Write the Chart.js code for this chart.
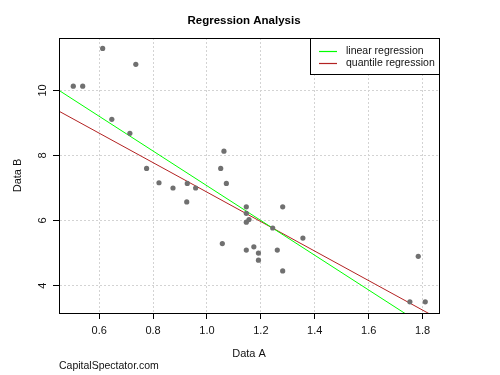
<!DOCTYPE html>
<html><head><meta charset="utf-8">
<script src="https://cdn.jsdelivr.net/npm/chart.js@4/dist/chart.umd.min.js"></script>
<style>html,body{margin:0;padding:0;background:#fff}canvas{display:block}</style>
</head><body>
<canvas id="c" width="500" height="375"></canvas>
<script>
// ---- data ----
const dataA = [0.504,0.539,0.613,0.736,0.647,0.714,0.776,0.822,0.874,0.927,0.958,0.925,1.063,1.051,1.072,1.146,1.146,1.156,1.146,1.281,1.244,1.356,1.057,1.146,1.174,1.191,1.191,1.261,1.281,1.784,1.753,1.810];
const dataB = [10.13,10.13,11.29,10.80,9.11,8.68,7.60,7.16,7.00,7.14,7.00,6.57,8.13,7.60,7.14,6.42,6.22,6.03,5.95,6.42,5.77,5.46,5.29,5.09,5.19,5.00,4.78,5.09,4.45,4.90,3.50,3.50];
const linearX = [0.451, 1.861];
const linearY = [10.00, 2.47];
const quantileX = [0.451, 1.861];
const quantileY = [9.36, 2.97];
const xTicks = [0.6, 0.8, 1.0, 1.2, 1.4, 1.6, 1.8];
const yTicks = [4, 6, 8, 10];
const seriesLabels = ['linear regression', 'quantile regression'];
const seriesColors = ['#00ff00', '#b22222'];
const titleText = 'Regression Analysis';
const xTitle = 'Data A';
const yTitle = 'Data B';
const sourceText = 'CapitalSpectator.com';

const FONT = "'Liberation Sans', Arial, sans-serif";
const toPts = (xs, ys) => xs.map((x, i) => ({x: x, y: ys[i]}));

const extras = {
  id: 'extras',
  afterDraw(chart) {
    const ctx = chart.ctx, a = chart.chartArea;
    ctx.save();
    ctx.setLineDash([]);
    // plot box
    ctx.strokeStyle = '#000'; ctx.lineWidth = 1;
    ctx.strokeRect(Math.round(a.left) + 0.5, Math.round(a.top) + 0.5, Math.round(a.right - a.left), Math.round(a.bottom - a.top));
    // title
    ctx.fillStyle = '#000';
    ctx.font = "bold 11.5px " + FONT;
    ctx.textAlign = 'center'; ctx.textBaseline = 'middle';
    ctx.fillText(titleText, 244, 21);
    // source
    ctx.font = "10.5px " + FONT;
    ctx.textAlign = 'left';
    ctx.fillStyle = '#111';
    ctx.fillText(sourceText, 59, 366);
    // legend (top-right inset)
    const lx = 310.5, ly = Math.round(a.top) + 0.5, lw = Math.round(a.right) - 310, lh = 36;
    ctx.fillStyle = '#fff';
    ctx.fillRect(lx, ly, lw, lh);
    ctx.strokeStyle = '#000';
    ctx.strokeRect(lx, ly, lw, lh);
    seriesLabels.forEach((lab, i) => {
      const y = 51 + i * 11.6;
      ctx.strokeStyle = seriesColors[i]; ctx.lineWidth = 1.2;
      ctx.beginPath(); ctx.moveTo(319, Math.round(y) + 0.5); ctx.lineTo(337, Math.round(y) + 0.5); ctx.stroke();
      ctx.fillStyle = '#111';
      ctx.font = "10.5px " + FONT;
      ctx.textAlign = 'left'; ctx.textBaseline = 'middle';
      ctx.fillText(lab, 346, y + 0.5);
    });
    ctx.restore();
  }
};

const gridOpts = { color: '#d3d3d3', tickLength: 6, tickColor: '#000', tickBorderDash: [], tickWidth: 1, lineWidth: 1 };
const borderOpts = { display: true, color: '#000', width: 1, dash: [2, 2] };

new Chart(document.getElementById('c'), {
  type: 'scatter',
  data: {
    datasets: [
      { label: 'points', data: toPts(dataA, dataB), backgroundColor: '#707070', borderColor: '#707070', pointRadius: 2.6, borderWidth: 0, pointHoverRadius: 2.6 },
      { label: seriesLabels[0], data: toPts(linearX, linearY), showLine: true, borderColor: seriesColors[0], borderWidth: 1, pointRadius: 0, fill: false },
      { label: seriesLabels[1], data: toPts(quantileX, quantileY), showLine: true, borderColor: seriesColors[1], borderWidth: 1, pointRadius: 0, fill: false }
    ]
  },
  options: {
    responsive: false,
    animation: false,
    devicePixelRatio: 1,
    layout: { padding: { top: 38, right: 61, left: 0, bottom: 0 } },
    plugins: { legend: { display: false }, title: { display: false }, tooltip: { enabled: false } },
    scales: {
      x: {
        type: 'linear', min: 0.451, max: 1.861,
        afterBuildTicks: s => { s.ticks = xTicks.map(v => ({value: v})); },
        afterFit: s => { s.height = 62; },
        ticks: { callback: v => Number(v).toFixed(1), font: { family: FONT, size: 11 }, color: '#111', padding: 5, maxRotation: 0, minRotation: 0 },
        grid: gridOpts,
        border: borderOpts,
        title: { display: true, text: xTitle, font: { family: FONT, size: 11 }, color: '#111', padding: { top: 0, bottom: 14 } }
      },
      y: {
        type: 'linear', min: 3.157, max: 11.61,
        afterBuildTicks: s => { s.ticks = yTicks.map(v => ({value: v})); },
        afterFit: s => { s.width = 59; },
        ticks: { callback: v => String(v), font: { family: FONT, size: 11 }, color: '#111', padding: 4, minRotation: 90, maxRotation: 90, crossAlign: 'center' },
        grid: gridOpts,
        border: borderOpts,
        title: { display: true, text: yTitle, font: { family: FONT, size: 11 }, color: '#111', padding: { top: 11, bottom: 0 } }
      }
    }
  },
  plugins: [extras]
});
</script>
</body></html>
